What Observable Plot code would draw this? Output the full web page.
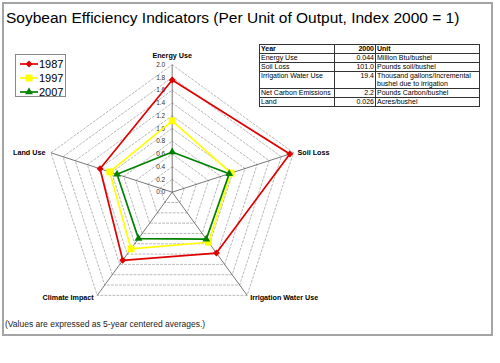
<!DOCTYPE html>
<html><head><meta charset="utf-8">
<script src="https://cdn.jsdelivr.net/npm/d3@7"></script>
<script src="https://cdn.jsdelivr.net/npm/@observablehq/plot@0.6"></script>
<style>
body{margin:0;background:#fff;font-family:Arial,"Liberation Sans",sans-serif;}
#wrap{position:relative;width:500px;height:363px;overflow:hidden;background:#fff;}
#frame{position:absolute;left:2px;top:2px;width:491px;height:334px;border:2px solid #a4a4a4;box-sizing:border-box;}
#chart{position:absolute;left:0;top:0;}
#title{position:absolute;left:6px;top:9.6px;font-size:15.5px;line-height:1;white-space:nowrap;color:#000;}
#legend{position:absolute;left:15px;top:54px;width:51px;height:43px;border:1px solid #888;box-sizing:border-box;background:#fff;padding-top:2.3px;}
#legend .row{height:14px;display:flex;align-items:center;font-size:11px;line-height:14px;}
#legend svg{display:block;flex:none;}
#tbl{position:absolute;left:259px;top:44px;border-collapse:collapse;font-size:7px;line-height:8px;table-layout:fixed;width:220px;background:#fff;}
#tbl td{border:1px solid #333;padding:0 1px;vertical-align:top;white-space:pre-line;}
#tbl tr.head td{font-weight:bold;}
#tbl td.num{text-align:right;}
#caption{position:absolute;left:5px;top:320px;font-size:8.5px;line-height:1;white-space:nowrap;color:#222;}
</style></head><body><div id="wrap"><div id="frame"></div></div>
<script>
// ---- data ----
const axes = ["Energy Use", "Soil Loss", "Irrigation Water Use", "Climate Impact", "Land Use"];
const years = ["1987", "1997", "2007"];
const values1987 = [1.76, 1.94, 1.18, 1.32, 1.19];
const values1997 = [1.12, 0.97, 0.97, 1.10, 1.03];
const values2007 = [0.63, 0.94, 0.91, 0.90, 0.91];
const radialTicks = [0.0, 0.2, 0.4, 0.6, 0.8, 1.0, 1.2, 1.4, 1.6, 1.8, 2.0];
const tableHeader = ["Year", "2000", "Unit"];
const tableItems = ["Energy Use", "Soil Loss", "Irrigation Water Use", "Net Carbon Emissions", "Land"];
const table2000 = ["0.044", "101.0", "19.4", "2.2", "0.026"];
const tableUnits = ["Million Btu/bushel", "Pounds soil/bushel", "Thousand gallons/Incremental\nbushel due to irrigation", "Pounds Carbon/bushel", "Acres/bushel"];
const titleText = "Soybean Efficiency Indicators (Per Unit of Output, Index 2000 = 1)";
const captionText = "(Values are expressed as 5-year centered averages.)";

// ---- styles ----
const colors = ["#e00000", "#ffff00", "#008000"];
const symbols = ["diamond2", "square", "triangle"];
const symbolR = [3.1, 3.9, 2.9];

const seriesValues = [values1987, values1997, values2007];
const maxR = radialTicks[radialTicks.length - 1];
const ang = i => i * 2 * Math.PI / axes.length;
const px = (v, i) => v * Math.sin(ang(i));
const py = (v, i) => v * Math.cos(ang(i));

const rows = years.map((yr, k) => seriesValues[k].map((v, i) => ({year: yr, axis: axes[i], value: v, i})));
const gridRows = radialTicks.filter(t => t > 0).flatMap(t => axes.map((a, i) => ({t, i})));

// geometry: center at (171.7,191.7), 2.0 -> 127.5 px
const W = 500, H = 363, cx = 171.7, cy = 191.7, unit = 127.5 / maxR;

function labelPlacement(i) {
  return [
    {textAnchor: "middle", dx: 0, dy: -9},
    {textAnchor: "start", dx: 4, dy: 0},
    {textAnchor: "start", dx: 3, dy: 2},
    {textAnchor: "end", dx: -3.5, dy: 2},
    {textAnchor: "end", dx: -5.5, dy: -0.5}
  ][i];
}

const marks = [
  Plot.line(gridRows, {x: d => px(d.t, d.i), y: d => py(d.t, d.i), z: "t", curve: "linear-closed",
    stroke: "#9a9a9a", strokeWidth: 0.7, strokeDasharray: "2,2"}),
  Plot.link(axes, {x1: () => 0, y1: () => 0, x2: (d, i) => px(maxR, i), y2: (d, i) => py(maxR, i),
    stroke: "#555", strokeWidth: 0.8}),
  Plot.text(radialTicks, {x: () => 0, y: d => d, text: d => d.toFixed(1), textAnchor: "end", dx: -7,
    fontSize: 6.5, fill: "#333", fontFamily: "Arial, Liberation Sans, sans-serif"}),
  ...axes.map((a, i) => Plot.text([a], {x: () => px(maxR, i), y: () => py(maxR, i), text: d => d,
    fontWeight: "bold", fontSize: 7.2, fill: "#000", fontFamily: "Arial, Liberation Sans, sans-serif", ...labelPlacement(i)})),
];
years.forEach((yr, k) => {
  marks.push(Plot.line(rows[k], {x: d => px(d.value, d.i), y: d => py(d.value, d.i), curve: "linear-closed",
    stroke: colors[k], strokeWidth: 1.7}));
  marks.push(Plot.dot(rows[k], {x: d => px(d.value, d.i), y: d => py(d.value, d.i), symbol: () => symbols[k],
    fill: colors[k], stroke: "none", r: symbolR[k]}));
});

const svg = Plot.plot({
  width: W, height: H, margin: 0,
  style: {background: "transparent", overflow: "visible"},
  x: {domain: [-cx / unit, (W - cx) / unit], range: [0, W], axis: null},
  y: {domain: [-(H - cy) / unit, cy / unit], range: [H, 0], axis: null},
  symbol: {domain: symbols, range: symbols},
  marks
});
svg.id = "chart";
const wrap = document.getElementById("wrap");
wrap.appendChild(svg);

// title
const title = document.createElement("div");
title.id = "title"; title.textContent = titleText; wrap.appendChild(title);

// legend
const legend = document.createElement("div");
legend.id = "legend";
years.forEach((yr, k) => {
  const row = document.createElement("div"); row.className = "row";
  const s = d3.create("svg").attr("width", 23).attr("height", 14);
  s.append("line").attr("x1", 4).attr("x2", 22).attr("y1", 7).attr("y2", 7).attr("stroke", colors[k]).attr("stroke-width", 1.7);
  const sym = d3.symbol(k === 0 ? d3.symbolDiamond2 : k === 1 ? d3.symbolSquare : d3.symbolTriangle, Math.PI * symbolR[k] * symbolR[k]);
  s.append("path").attr("d", sym()).attr("transform", "translate(13,7)").attr("fill", colors[k]);
  row.appendChild(s.node());
  const t = document.createElement("span"); t.textContent = yr; row.appendChild(t);
  legend.appendChild(row);
});
wrap.appendChild(legend);

// table
const tbl = document.createElement("table"); tbl.id = "tbl";
const cg = document.createElement("colgroup");
[75, 41, 104].forEach(w => { const c = document.createElement("col"); c.style.width = w + "px"; cg.appendChild(c); });
tbl.appendChild(cg);
const hr = document.createElement("tr"); hr.className = "head";
tableHeader.forEach((h, j) => { const td = document.createElement("td"); td.textContent = h; if (j === 1) td.className = "num"; hr.appendChild(td); });
tbl.appendChild(hr);
tableItems.forEach((it, r) => {
  const tr = document.createElement("tr");
  [it, table2000[r], tableUnits[r]].forEach((v, j) => { const td = document.createElement("td"); td.textContent = v; if (j === 1) td.className = "num"; tr.appendChild(td); });
  tbl.appendChild(tr);
});
wrap.appendChild(tbl);

// caption
const cap = document.createElement("div"); cap.id = "caption"; cap.textContent = captionText; wrap.appendChild(cap);
</script></body></html>
